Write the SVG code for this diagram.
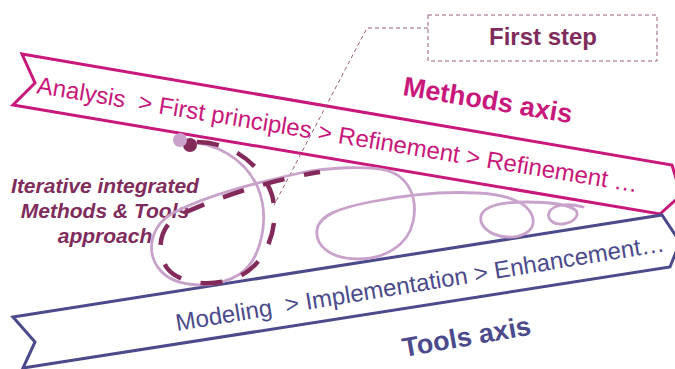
<svg xmlns="http://www.w3.org/2000/svg" width="675" height="369" viewBox="0 0 675 369">
<style>
.rib{fill:#fff;stroke-width:3;stroke-linejoin:miter}
.m{stroke:#c8187c}
.t{stroke:#4b4a8c}
.bt{font-family:"Liberation Sans",Arial,sans-serif;font-size:24px}
.ax{font-family:"Liberation Sans",Arial,sans-serif;font-size:27px;font-weight:bold}
.it{font-family:"Liberation Sans",Arial,sans-serif;font-size:21px;font-weight:bold;font-style:italic;fill:#7f2c5d;text-anchor:middle}
.lead{fill:none;stroke:#9b5a80;stroke-width:1;stroke-dasharray:4 3}
.light{fill:none;stroke:#c9a2cc;stroke-width:2.8;stroke-linecap:round}
.dash{fill:none;stroke:#832a5b;stroke-width:4.5;stroke-dasharray:22 20}
</style>
<g id="methods-axis">
<polygon class="rib m" points="22,54 672,165 681,195 660,214 13,105 35,83"/>
<text class="bt" fill="#c8187c" transform="translate(36,93) rotate(9.4)" xml:space="preserve">Analysis  &gt; First principles &gt; Refinement &gt; Refinement …</text>
<text class="ax" fill="#c8187c" transform="translate(402,95) rotate(9.5)">Methods axis</text>
</g>
<g id="tools-axis">
<polygon class="rib t" points="13,317 662,215 680,242 670,267 23,368 35,342"/>
<text class="bt" fill="#4b4a8c" transform="translate(177,331) rotate(-9.3)" xml:space="preserve">Modeling  &gt; Implementation &gt; Enhancement…</text>
<text class="ax" fill="#4b4a8c" transform="translate(404,357) rotate(-10)">Tools axis</text>
</g>
<g id="approach-label">
<text class="it" x="105" y="193">Iterative integrated</text>
<text class="it" x="105" y="218">Methods &amp; Tools</text>
<text class="it" x="105" y="243">approach</text>
</g>
<g id="first-step">
<rect x="428" y="15" width="229" height="46" fill="none" stroke="#9b5a80" stroke-width="1" stroke-dasharray="4 3"/>
<text x="543" y="45" font-family="Liberation Sans, Arial, sans-serif" font-size="24" font-weight="bold" fill="#7f2c5d" text-anchor="middle">First step</text>
</g>
<g id="connectors">
<polyline class="lead" points="428,28 367,28 274,205"/>
<path class="light" d="M182,141 C215,142 245,158 258,188 C270,218 262,258 240,274 C215,290 175,288 160,270 C145,252 150,225 175,212 C210,194 260,182 300,173 C330,167 365,166 385,170 C410,176 418,200 413,222 C408,245 385,259 358,259 C330,259 315,245 317,230 C319,215 340,208 370,202 C400,196 440,191 477,193 C505,194 530,202 533,219 C535,232 520,238 507,237 C490,236 479,226 481,216 C484,206 500,202 527,202 C545,202 565,204 574,209 C581,213 576,222 563,224 C553,225 547,219 549,213 C551,206 565,202 583,207"/>
<circle cx="190" cy="145" r="7" fill="#832a5b"/>
<circle cx="180" cy="140" r="7" fill="#c9a2cc"/>
<path class="dash" d="M197,142 C232,142 262,165 272,195 C280,225 268,262 240,276 C215,288 180,285 167,268 C155,250 160,225 180,215 C215,198 270,180 320,172"/>
</g>
</svg>
